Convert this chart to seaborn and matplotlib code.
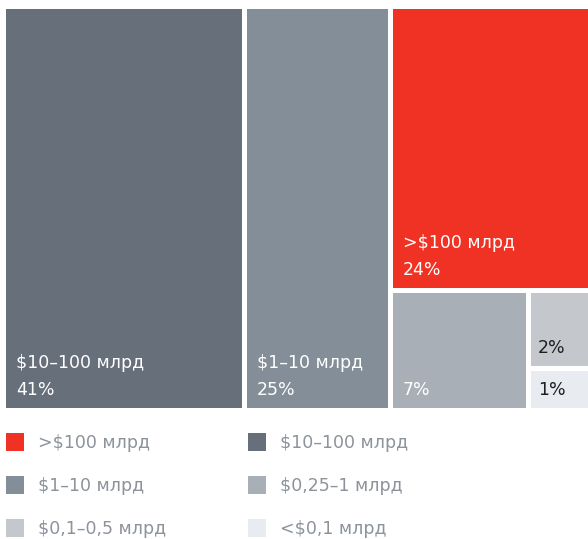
import matplotlib
matplotlib.use("Agg")
import matplotlib.pyplot as plt
from matplotlib.patches import Rectangle
import seaborn as sns

# Market-cap buckets and their share of the total
categories = [">$100 млрд", "$10–100 млрд", "$1–10 млрд",
              "$0,25–1 млрд", "$0,1–0,5 млрд", "<$0,1 млрд"]
shares = [24, 41, 25, 7, 2, 1]
tile_names = [">$100 млрд", "$10–100 млрд", "$1–10 млрд", "", "", ""]
colors = ["#F03224", "#666F7A", "#848E98", "#A9AFB6", "#C4C8CC", "#E8EBEF"]
text_colors = ["white", "white", "white", "white", "#1E1E1E", "#1E1E1E"]

# Nested slice layout: "h" splits left-to-right, "v" splits top-to-bottom
tree = ("h", [1, 2, ("v", [0, ("h", [3, ("v", [4, 5])])])])

sns.set_theme(style="white")
plt.rcParams["font.family"] = ["DejaVu Sans"]

W, H = 588, 539
fig = plt.figure(figsize=(W / 100, H / 100), dpi=100)
ax = fig.add_axes([0, 0, 1, 1])
ax.set_xlim(0, W)
ax.set_ylim(H, 0)
ax.axis("off")


def weight(node):
    if isinstance(node, int):
        return shares[node]
    return sum(weight(c) for c in node[1])


def layout(node, x, y, w, h, out):
    if isinstance(node, int):
        out[node] = (x, y, w, h)
        return
    direction, children = node
    total = weight(node)
    for child in children:
        frac = weight(child) / total
        if direction == "h":
            cw = w * frac
            layout(child, x, y, cw, h, out)
            x += cw
        else:
            ch = h * frac
            layout(child, x, y, w, ch, out)
            y += ch


X0, Y0, X1, Y1 = 6, 9, 588, 408
gap = 5
cells = {}
layout(tree, X0, Y0, X1 - X0, Y1 - Y0, cells)

fs = 12.5
for i, (x, y, w, h) in cells.items():
    left, top, right, bottom = x, y, x + w, y + h
    if left > X0 + 0.5:
        left += gap / 2
    if right < X1 - 0.5:
        right -= gap / 2
    if top > Y0 + 0.5:
        top += gap / 2
    if bottom < Y1 - 0.5:
        bottom -= gap / 2
    ax.add_patch(Rectangle((left, top), right - left, bottom - top,
                           facecolor=colors[i], edgecolor="none"))
    pad_x = min(10, (right - left) * 0.12)
    base = bottom - 13
    ax.text(left + pad_x, base, f"{shares[i]}%", color=text_colors[i],
            fontsize=fs, va="baseline", ha="left")
    if tile_names[i]:
        ax.text(left + pad_x, base - 27, tile_names[i], color=text_colors[i],
                fontsize=fs, va="baseline", ha="left")

# Two-column legend, filled row by row
sq = 18
col_x = [6, 248]
row_y = [442, 485, 528]
for k, name in enumerate(categories):
    cx = col_x[k % 2]
    cy = row_y[k // 2]
    ax.add_patch(Rectangle((cx, cy - sq / 2), sq, sq,
                           facecolor=colors[k], edgecolor="none"))
    ax.text(cx + 32, cy + 1, name, color="#8C939B", fontsize=fs,
            va="center", ha="left")

fig.savefig("out.png", dpi=100)
